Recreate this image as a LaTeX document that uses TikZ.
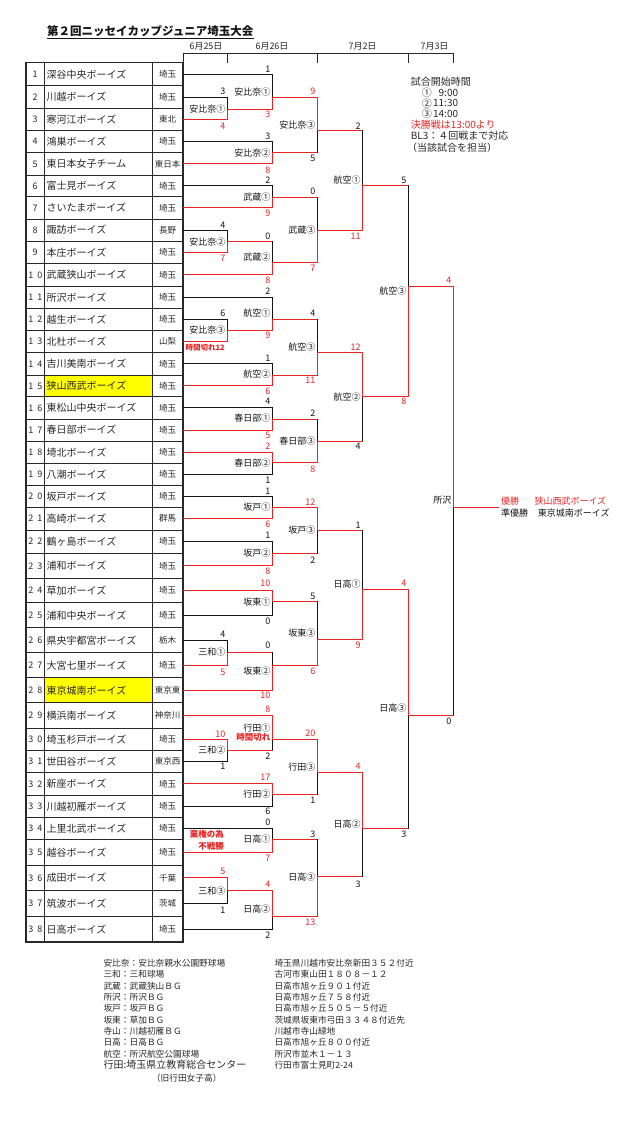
\documentclass[tikz,border=0pt]{standalone}
\usepackage{fontspec}
\setmainfont{Noto Sans CJK JP}
\definecolor{rc}{RGB}{232,36,36}
\definecolor{kc}{RGB}{20,20,20}
\definecolor{tc}{RGB}{40,40,40}
\definecolor{hl}{RGB}{255,255,0}
\tikzset{
  bl/.style={line width=0.9pt, line cap=rect},
  tb/.style={line width=0.8pt, draw=tc},
  lab/.style={inner sep=0pt, anchor=east, text=kc, font=\fontsize{9}{9}\selectfont},
  sco/.style={inner sep=0pt, anchor=east, font=\fontsize{9}{9}\selectfont},
  ann/.style={inner sep=0pt, anchor=east, text=rc, font=\bfseries\fontsize{8.5}{8.5}\selectfont},
  nmst/.style={inner sep=0pt, anchor=west, text=tc, font=\fontsize{10}{10}\selectfont},
  pfst/.style={inner sep=0pt, text=tc, font=\fontsize{8.5}{8.5}\selectfont},
  numst/.style={inner sep=0pt, text=tc, font=\fontsize{9}{9}\selectfont},
  lgst/.style={inner sep=0pt, anchor=west, text=tc, font=\fontsize{10}{10}\selectfont},
  btst/.style={inner sep=0pt, anchor=west, text=tc, font=\fontsize{8.7}{8.7}\selectfont},
  datest/.style={inner sep=0pt, text=tc, font=\fontsize{9}{9}\selectfont},
}
\def\XA{227.3}\def\XB{272.3}\def\XC{317.3}\def\XD{362.7}\def\XE{408.3}\def\XF{453.3}
\begin{document}
\begin{tikzpicture}[x=1pt,y=-1pt]
\useasboundingbox (0,0) rectangle (640,1136);
% title
\node[inner sep=0pt, anchor=west, text=kc, font=\bfseries\fontsize{11.5}{11.5}\selectfont] (title) at (47,31.3) {第２回ニッセイカップジュニア埼玉大会};
\draw[line width=0.8pt, draw=kc] ([yshift=-1pt]title.south west) -- ([yshift=-1pt]title.south east);
% date header
\draw[tb] (183,53.3) -- (\XF,53.3);
\foreach \x in {183,\XA,\XC,\XE,\XF} \draw[tb] (\x,53.3) -- (\x,62.7);
\node[datest] (d1) at (206,46) {6月25日};
\node[datest] (d2) at (272,46) {6月26日};
\node[datest] (d3) at (362.5,46) {7月2日};
\node[datest] (d4) at (434.5,46) {7月3日};
% table
\fill[hl] (44,375) rectangle (152,396.7);
\fill[hl] (44,677.7) rectangle (152,702.7);
\foreach \y in {85.7,108.3,130.7,152.7,175,196.7,219,241,263.5,286,308.3,330.3,352.7,375,396.7,419,441,463.3,485.3,507.3,530,553.3,578.3,602.7,627.7,652.7,677.7,702.7,728.3,750.7,772.7,795,817.3,839.3,865,890.7,916.7}
  \draw[tb] (26,\y) -- (183,\y);
\draw[tb] (44,62.7) -- (44,942);
\draw[tb] (152,62.7) -- (152,942);
\draw[line width=1.3pt, draw=tc] (26,62.7) rectangle (183,942);
\foreach \b/\yc/\nm/\pf [count=\n] in {
 1/74.2/深谷中央ボーイズ/埼玉, 2/97/川越ボーイズ/埼玉, 3/119.5/寒河江ボーイズ/東北,
 4/141.7/鴻巣ボーイズ/埼玉, 5/163.9/東日本女子チーム/東日本, 6/185.9/富士見ボーイズ/埼玉,
 7/207.9/さいたまボーイズ/埼玉, 8/230/諏訪ボーイズ/長野, 9/252.3/本庄ボーイズ/埼玉}{
  \node[numst] (no\n) at (35,\yc) {\b};
  \node[nmst] (nm\n) at (46.5,\yc) {\nm};
  \node[pfst] (pf\n) at (167.5,\yc) {\pf};
}
\foreach \a/\b/\yc/\nm/\pf [count=\n from 10] in {
 1/0/274.8/武蔵狭山ボーイズ/埼玉, 1/1/297.2/所沢ボーイズ/埼玉, 1/2/319.3/越生ボーイズ/埼玉,
 1/3/341.5/北杜ボーイズ/山梨, 1/4/363.9/吉川美南ボーイズ/埼玉, 1/5/385.9/狭山西武ボーイズ/埼玉,
 1/6/407.9/東松山中央ボーイズ/埼玉, 1/7/430/春日部ボーイズ/埼玉, 1/8/452.2/埼北ボーイズ/埼玉,
 1/9/474.3/八潮ボーイズ/埼玉, 2/0/496.3/坂戸ボーイズ/埼玉, 2/1/518.7/高崎ボーイズ/群馬,
 2/2/541.7/鶴ヶ島ボーイズ/埼玉, 2/3/565.8/浦和ボーイズ/埼玉, 2/4/590.5/草加ボーイズ/埼玉,
 2/5/615.2/浦和中央ボーイズ/埼玉, 2/6/640.2/県央宇都宮ボーイズ/栃木, 2/7/665.2/大宮七里ボーイズ/埼玉,
 2/8/690.2/東京城南ボーイズ/東京東, 2/9/715.5/横浜南ボーイズ/神奈川, 3/0/739.5/埼玉杉戸ボーイズ/埼玉,
 3/1/761.7/世田谷ボーイズ/東京西, 3/2/783.9/新座ボーイズ/埼玉, 3/3/806.2/川越初雁ボーイズ/埼玉,
 3/4/828.3/上里北武ボーイズ/埼玉, 3/5/852.2/越谷ボーイズ/埼玉, 3/6/877.9/成田ボーイズ/千葉,
 3/7/903.7/筑波ボーイズ/茨城, 3/8/929.4/日高ボーイズ/埼玉}{
  \node[numst] (no\n) at (35.3,\yc) {\makebox[14pt][s]{\a\hfill\b}};
  \node[nmst] (nm\n) at (46.5,\yc) {\nm};
  \node[pfst] (pf\n) at (167.5,\yc) {\pf};
}
% team lines
\foreach \y/\xe/\cl in {
 74.2/\XB/kc, 97/\XA/kc, 119.5/\XA/rc, 141.7/\XB/kc, 163.9/\XB/rc, 185.9/\XB/kc, 207.9/\XB/rc,
 230/\XA/kc, 252.3/\XA/rc, 274.8/\XB/rc, 297.2/\XB/kc, 319.3/\XA/kc, 341.5/\XA/rc, 363.9/\XB/kc,
 385.9/\XB/rc, 407.9/\XB/kc, 430/\XB/rc, 452.2/\XB/rc, 474.3/\XB/kc, 496.3/\XB/kc, 518.7/\XB/rc,
 541.7/\XB/kc, 565.8/\XB/rc, 590.5/\XB/rc, 615.2/\XB/kc, 640.2/\XA/kc, 665.2/\XA/rc, 690.2/\XB/rc,
 715.5/\XB/rc, 739.5/\XA/rc, 761.7/\XA/kc, 783.9/\XB/rc, 806.2/\XB/kc, 828.3/\XB/kc, 852.2/\XB/rc,
 877.9/\XA/rc, 903.7/\XA/kc, 929.4/\XB/kc}
  \draw[bl, draw=\cl] (183,\y) -- (\xe,\y);
% matches: x / top / out / bottom / next x / top colour / bottom colour
\foreach \x/\yt/\yo/\yb/\xn/\ct/\cb in {
 \XA/97/109.3/119.5/\XB/kc/rc, \XA/230/241.7/252.3/\XB/kc/rc, \XA/319.3/330/341.5/\XB/kc/rc,
 \XA/640.2/652.7/665.2/\XB/kc/rc, \XA/739.5/750/761.7/\XB/rc/kc, \XA/877.9/890.7/903.7/\XB/rc/kc,
 \XB/74.2/97.7/109.3/\XC/kc/rc, \XB/141.7/152.7/163.9/\XC/kc/rc, \XB/185.9/197.3/207.9/\XC/kc/rc,
 \XB/241.7/262/274.8/\XC/kc/rc, \XB/297.2/319.3/330/\XC/kc/rc, \XB/363.9/375/385.9/\XC/kc/rc,
 \XB/407.9/419/430/\XC/kc/rc, \XB/452.2/462.7/474.3/\XC/rc/kc, \XB/496.3/507.3/518.7/\XC/kc/rc,
 \XB/541.7/553.3/565.8/\XC/kc/rc, \XB/590.5/601.7/615.2/\XC/rc/kc, \XB/652.7/665/690.2/\XC/kc/rc,
 \XB/715.5/739.3/750/\XC/rc/kc, \XB/783.9/794.3/806.2/\XC/rc/kc, \XB/828.3/839.3/852.2/\XC/kc/rc,
 \XB/890.7/916.7/929.4/\XC/rc/kc,
 \XC/97.7/130/152.7/\XD/rc/kc, \XC/197.3/230/262/\XD/kc/rc, \XC/319.3/352.3/375/\XD/kc/rc,
 \XC/419/441/462.7/\XD/kc/rc, \XC/507.3/530/553.3/\XD/rc/kc, \XC/601.7/639.3/665/\XD/kc/rc,
 \XC/739.3/772.7/794.3/\XD/rc/kc, \XC/839.3/876.7/916.7/\XD/kc/rc,
 \XD/130/185.7/230/\XE/kc/rc, \XD/352.3/396.7/441/\XE/rc/kc, \XD/530/589.3/639.3/\XE/kc/rc,
 \XD/772.7/828.3/876.7/\XE/rc/kc,
 \XE/185.7/286/396.7/\XF/kc/rc, \XE/589.3/715/828.3/\XF/rc/kc,
 \XF/286/507.3/715/498.3/rc/kc}{
  \draw[bl, draw=\ct] (\x,\yt) -- (\x,\yo);
  \draw[bl, draw=\cb] (\x,\yo) -- (\x,\yb);
  \draw[bl, draw=rc] (\x,\yo) -- (\xn,\yo);
}
% match labels
\foreach \x/\y/\tx [count=\n] in {
 \XA/109.3/安比奈①, \XA/241.7/安比奈②, \XA/330/安比奈③, \XA/651.7/三和①, \XA/750/三和②, \XA/890.7/三和③,
 \XB/91.7/安比奈①, \XB/152.7/安比奈②, \XB/196.7/武蔵①, \XB/257.3/武蔵②, \XB/313.3/航空①, \XB/374.3/航空②,
 \XB/418.3/春日部①, \XB/462.7/春日部②, \XB/507.3/坂戸①, \XB/552.7/坂戸②, \XB/601.7/坂東①, \XB/670.7/坂東②,
 \XB/728.3/行田①, \XB/794.3/行田②, \XB/839.3/日高①, \XB/909.3/日高②,
 \XC/125/安比奈③, \XC/230/武蔵③, \XC/346.7/航空③, \XC/441/春日部③, \XC/530/坂戸③, \XC/632.7/坂東③,
 \XC/766.7/行田③, \XC/876.7/日高③,
 \XD/180/航空①, \XD/396.7/航空②, \XD/584/日高①, \XD/824.3/日高②,
 \XE/290.7/航空③, \XE/708.3/日高③, \XF/500/所沢}
  \node[lab] (lab\n) at (\x-1.8,\y) {\tx};
% scores
\foreach \x/\y/\tx/\cl [count=\n] in {
 \XA/91.7/3/kc, \XA/126/4/rc, \XA/225/4/kc, \XA/258.3/7/rc, \XA/313.3/6/kc,
 \XA/634/4/kc, \XA/672.3/5/rc, \XA/734/10/rc, \XA/766.7/1/kc, \XA/871.7/5/rc, \XA/910/1/kc,
 \XB/69.3/1/kc, \XB/114.3/3/rc, \XB/136.7/3/kc, \XB/170/8/rc, \XB/180.7/2/kc, \XB/213.3/9/rc,
 \XB/236.7/0/kc, \XB/280.7/8/rc, \XB/291.7/2/kc, \XB/335.7/9/rc, \XB/358.3/1/kc, \XB/391.7/6/rc,
 \XB/401.7/4/kc, \XB/435/5/rc, \XB/446/2/rc, \XB/480/1/kc, \XB/491/1/kc, \XB/524.3/6/rc,
 \XB/535/1/kc, \XB/571.7/8/rc, \XB/583.3/10/rc, \XB/621.7/0/kc, \XB/645.7/0/kc, \XB/695.7/10/rc,
 \XB/709.3/8/rc, \XB/756/2/kc, \XB/777.7/17/rc, \XB/811.7/6/kc, \XB/822.7/0/kc, \XB/858.3/7/rc,
 \XB/884/4/rc, \XB/935.7/2/kc,
 \XC/91.7/9/rc, \XC/158.3/5/kc, \XC/191.7/0/kc, \XC/268.3/7/rc, \XC/313.3/4/kc, \XC/380/11/rc,
 \XC/413.3/2/kc, \XC/469/8/rc, \XC/502.7/12/rc, \XC/560/2/kc, \XC/596/5/kc, \XC/671.7/6/rc,
 \XC/733.3/20/rc, \XC/800.7/1/kc, \XC/834/3/kc, \XC/922.7/13/rc,
 \XD/126/2/kc, \XD/236/11/rc, \XD/347.3/12/rc, \XD/446.7/4/kc, \XD/525/1/kc, \XD/645.7/9/rc,
 \XD/766.7/4/rc, \XD/884/3/kc,
 \XE/180/5/kc, \XE/401.7/8/rc, \XE/583.3/4/rc, \XE/834/3/kc,
 \XF/280.7/4/rc, \XF/721.7/0/kc}
  \node[sco, text=\cl] (sc\n) at (\x-1.8,\y) {\tx};
% red annotations
\node[ann, font=\bfseries\fontsize{7.5}{7.5}\selectfont] (an1) at (225,347.3) {時間切れ12};
\node[ann] (an2) at (270.5,737.3) {時間切れ};
\node[ann] (an3) at (224,834.3) {棄権の為};
\node[ann] (an4) at (224,846) {不戦勝};
% winners
\node[btst, text=rc, font=\fontsize{9}{9}\selectfont] (w1) at (501,500.7) {優勝};
\node[btst, text=rc, font=\fontsize{9}{9}\selectfont] (w2) at (534.3,500.7) {狭山西武ボーイズ};
\node[btst, text=kc, font=\fontsize{9}{9}\selectfont] (w3) at (501,512.7) {準優勝};
\node[btst, text=kc, font=\fontsize{9}{9}\selectfont] (w4) at (537.7,512.7) {東京城南ボーイズ};
% time legend
\node[lgst] (t1) at (410.7,81.7) {試合開始時間};
\node[lgst] (t2) at (421.7,92.7) {①};
\node[lgst, anchor=east] (t3) at (458.3,92.7) {9:00};
\node[lgst] (t4) at (421.7,103.3) {②};
\node[lgst, anchor=east] (t5) at (458.3,103.3) {11:30};
\node[lgst] (t6) at (421.7,114) {③};
\node[lgst, anchor=east] (t7) at (458.3,114) {14:00};
\node[lgst, text=rc] (t8) at (410.7,124.5) {決勝戦は13:00より};
\node[lgst] (t9) at (410.7,136) {BL3：４回戦まで対応};
\node[lgst] (t10) at (407,147.3) {（当該試合を担当）};
% venue legend
\foreach \y/\tx [count=\n] in {
 962.7/安比奈：安比奈親水公園野球場, 974.3/三和：三和球場, 985.7/武蔵：武蔵狭山ＢＧ,
 997/所沢：所沢ＢＧ, 1008.3/坂戸：坂戸ＢＧ, 1019.7/坂東：草加ＢＧ, 1031/寺山：川越初雁ＢＧ,
 1042.3/日高：日高ＢＧ, 1053.7/航空：所沢航空公園球場}
  \node[btst] (vl\n) at (103.3,\y) {\tx};
\node[btst, font=\fontsize{10}{10}\selectfont] (vl10) at (103.3,1065) {行田:埼玉県立教育総合センター};
\node[btst] (vl11) at (151.7,1077.7) {（旧行田女子高）};
\foreach \y/\tx [count=\n] in {
 962.7/埼玉県川越市安比奈新田３５２付近, 974.3/古河市東山田１８０８－１２, 985.7/日高市旭ヶ丘９０１付近,
 997/日高市旭ヶ丘７５８付近, 1008.3/日高市旭ヶ丘５０５－５付近, 1019.7/茨城県坂東市弓田３３４８付近先,
 1031/川越市寺山緑地, 1042.3/日高市旭ヶ丘８００付近, 1053.7/所沢市並木１－１３, 1065/行田市富士見町2-24}
  \node[btst] (vr\n) at (274.3,\y) {\tx};
\end{tikzpicture}
\end{document}
